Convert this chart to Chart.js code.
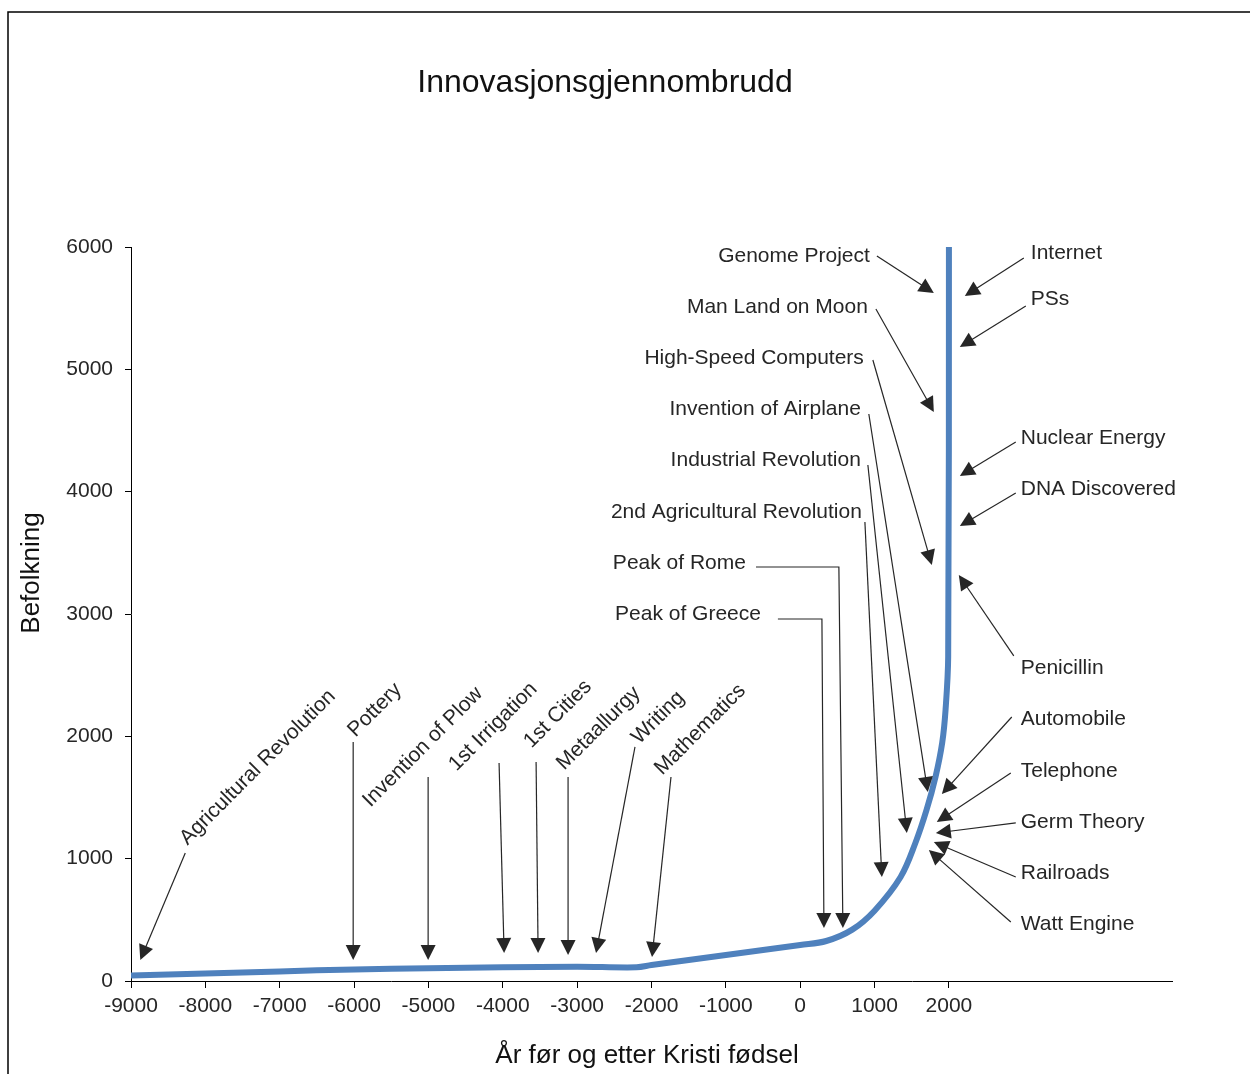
<!DOCTYPE html>
<html lang="no">
<head>
<meta charset="UTF-8">
<title>Innovasjonsgjennombrudd</title>
<script src="https://cdn.jsdelivr.net/npm/chart.js@4.4.0/dist/chart.umd.min.js"></script>
<style>
    html, body { margin: 0; padding: 0; background: #ffffff; }
    #wrap { position: relative; width: 1250px; height: 1074px; }
</style>
</head>
<body>
<div id="wrap"><canvas id="innovChart" width="1250" height="1074"></canvas></div>
<script>
    // --- Population curve ---
    const years = [-9000, -8000, -7000, -6000, -5000, -4000, -3000, -2200, -2000, -1000, 0, 350, 700, 1000, 1350, 1550, 1700, 1820, 1910, 1955, 1990, 2000];
    const population = [45, 62, 78, 95, 105, 112, 117, 112, 130, 212, 295, 327, 420, 575, 850, 1130, 1400, 1670, 1950, 2220, 2650, 6000];

    const xTickValues = [-9000, -8000, -7000, -6000, -5000, -4000, -3000, -2000, -1000, 0, 1000, 2000];
    const yTickValues = [0, 1000, 2000, 3000, 4000, 5000, 6000];

    // --- Callouts: label anchor + arrow path, in axis units (year, population) ---
    const leftNotes = [
        { text: 'Genome Project', at: [937, 5926], path: [[1031, 5926], [1797, 5624]] },
        { text: 'Man Land on Moon', at: [910, 5510], path: [[1018, 5493], [1797, 4651]] },
        { text: 'High-Speed Computers', at: [856, 5093], path: [[977, 5076], [1770, 3401]] },
        { text: 'Invention of Airplane', at: [816, 4676], path: [[923, 4635], [1716, 1545]] },
        { text: 'Industrial Revolution', at: [816, 4259], path: [[910, 4218], [1434, 1210]] },
        { text: '2nd Agricultural Revolution', at: [829, 3834], path: [[870, 3752], [1098, 850]] },
        { text: 'Peak of Rome', at: [-730, 3417], path: [[-595, 3384], [520, 3384], [574, 433]] },
        { text: 'Peak of Greece', at: [-528, 3000], path: [[-300, 2959], [292, 2959], [319, 433]] }
    ];
    const rightNotes = [
        { text: 'Internet', at: [3101, 5951], path: [[3007, 5910], [2214, 5600]] },
        { text: 'PSs', at: [3101, 5575], path: [[3034, 5518], [2147, 5183]] },
        { text: 'Nuclear Energy', at: [2966, 4439], path: [[2899, 4406], [2147, 4128]] },
        { text: 'DNA Discovered', at: [2966, 4022], path: [[2899, 3989], [2147, 3719]] },
        { text: 'Penicillin', at: [2966, 2559], path: [[2872, 2657], [2133, 3319]] },
        { text: 'Automobile', at: [2966, 2142], path: [[2845, 2158], [1905, 1529]] },
        { text: 'Telephone', at: [2966, 1717], path: [[2832, 1700], [1837, 1300]] },
        { text: 'Germ Theory', at: [2966, 1300], path: [[2899, 1292], [1824, 1210]] },
        { text: 'Railroads', at: [2966, 883], path: [[2899, 850], [1797, 1136]] },
        { text: 'Watt Engine', at: [2966, 466], path: [[2832, 482], [1730, 1071]] }
    ];
    const slantNotes = [
        { text: 'Agricultural Revolution', at: [-8294, 1139], path: [[-8270, 1046], [-8875, 172]] },
        { text: 'Pottery', at: [-6036, 2022], path: [[-6012, 1954], [-6012, 172]] },
        { text: 'Invention of Plow', at: [-5835, 1450], path: [[-5004, 1668], [-5004, 172]] },
        { text: '1st Irrigation', at: [-4679, 1744], path: [[-4050, 1782], [-3982, 229]] },
        { text: '1st Cities', at: [-3670, 1932], path: [[-3552, 1790], [-3525, 229]] },
        { text: 'Metaallurgy', at: [-3227, 1752], path: [[-3122, 1668], [-3122, 213]] },
        { text: 'Writing', at: [-2219, 1965], path: [[-2222, 1913], [-2746, 229]] },
        { text: 'Mathematics', at: [-1910, 1711], path: [[-1738, 1668], [-1993, 196]] }
    ];

    const FONT = '"Liberation Sans", Arial, sans-serif';
    const INK = '#262626';

    function drawArrow(ctx, pts) {
        const n = pts.length;
        const [tx, ty] = pts[n - 1];
        const [qx, qy] = pts[n - 2];
        const len = Math.hypot(tx - qx, ty - qy) || 1;
        const ux = (tx - qx) / len, uy = (ty - qy) / len;
        ctx.beginPath();
        ctx.moveTo(pts[0][0], pts[0][1]);
        for (let i = 1; i < n - 1; i++) ctx.lineTo(pts[i][0], pts[i][1]);
        ctx.lineTo(tx - ux * 10, ty - uy * 10);
        ctx.stroke();
        const bx = tx - ux * 15, by = ty - uy * 15;
        ctx.beginPath();
        ctx.moveTo(tx, ty);
        ctx.lineTo(bx - uy * 7.5, by + ux * 7.5);
        ctx.lineTo(bx + uy * 7.5, by - ux * 7.5);
        ctx.closePath();
        ctx.fill();
    }

    const calloutPlugin = {
        id: 'callouts',
        afterDatasetsDraw(chart) {
            const { ctx } = chart;
            const xs = chart.scales.x, ys = chart.scales.y;
            const toPx = p => [xs.getPixelForValue(p[0]), ys.getPixelForValue(p[1])];
            ctx.save();
            ctx.font = '21px ' + FONT;
            ctx.fillStyle = INK;
            ctx.strokeStyle = INK;
            ctx.lineWidth = 1.2;
            ctx.textBaseline = 'middle';

            leftNotes.forEach(n => {
                const [x, y] = toPx(n.at);
                ctx.textAlign = 'right';
                ctx.fillText(n.text, x, y);
                drawArrow(ctx, n.path.map(toPx));
            });
            rightNotes.forEach(n => {
                const [x, y] = toPx(n.at);
                ctx.textAlign = 'left';
                ctx.fillText(n.text, x, y);
                drawArrow(ctx, n.path.map(toPx));
            });
            slantNotes.forEach(n => {
                const [x, y] = toPx(n.at);
                ctx.save();
                ctx.translate(x, y);
                ctx.rotate(-Math.PI / 4);
                ctx.textAlign = 'left';
                ctx.fillText(n.text, 0, 0);
                ctx.restore();
                drawArrow(ctx, n.path.map(toPx));
            });
            ctx.restore();
        }
    };

    // frame, chart title and axis titles
    const decorPlugin = {
        id: 'decor',
        afterDraw(chart) {
            const { ctx, chartArea } = chart;
            ctx.save();
            ctx.strokeStyle = '#000';
            ctx.lineWidth = 1.5;
            ctx.beginPath();
            ctx.moveTo(8, chart.height + 2);
            ctx.lineTo(8, 12);
            ctx.lineTo(chart.width + 2, 12);
            ctx.stroke();

            ctx.fillStyle = '#111';
            ctx.textAlign = 'center';
            ctx.textBaseline = 'middle';
            ctx.font = '32px ' + FONT;
            ctx.fillText('Innovasjonsgjennombrudd', 605, 83);

            ctx.font = '26px ' + FONT;
            ctx.fillText('År før og etter Kristi fødsel', chartArea.left + 516, chartArea.bottom + 75);

            ctx.translate(32, chartArea.top + 326);
            ctx.rotate(-Math.PI / 2);
            ctx.fillText('Befolkning', 0, 0);
            ctx.restore();
        }
    };

    new Chart(document.getElementById('innovChart'), {
        type: 'line',
        data: {
            datasets: [{
                label: 'Befolkning',
                data: years.map((yr, i) => ({ x: yr, y: population[i] })),
                borderColor: '#4F81BD',
                borderWidth: 6,
                pointRadius: 0,
                fill: false,
                tension: 0.35
            }]
        },
        options: {
            responsive: false,
            animation: false,
            devicePixelRatio: 1,
            layout: { padding: { left: 0, right: 78, top: 247, bottom: 0 } },
            plugins: { legend: { display: false }, title: { display: false }, tooltip: { enabled: false } },
            scales: {
                x: {
                    type: 'linear',
                    min: -9000,
                    max: 5000,
                    afterBuildTicks: s => { s.ticks = xTickValues.map(v => ({ value: v })); },
                    afterFit: s => { s.height = 93; },
                    border: { color: '#000', width: 1 },
                    grid: { drawOnChartArea: false, drawTicks: true, tickLength: 7, color: '#000' },
                    ticks: {
                        font: { size: 21, family: FONT }, color: INK, padding: 6, maxRotation: 0, autoSkip: false,
                        callback: v => String(v)
                    }
                },
                y: {
                    min: 0,
                    max: 6000,
                    afterBuildTicks: s => { s.ticks = yTickValues.map(v => ({ value: v })); },
                    afterFit: s => { s.width = 131; },
                    border: { color: '#000', width: 1 },
                    grid: { drawOnChartArea: false, drawTicks: true, tickLength: 6, color: '#000' },
                    ticks: { font: { size: 21, family: FONT }, color: INK, padding: 12, callback: v => String(v) }
                }
            }
        },
        plugins: [calloutPlugin, decorPlugin]
    });
</script>
</body>
</html>
